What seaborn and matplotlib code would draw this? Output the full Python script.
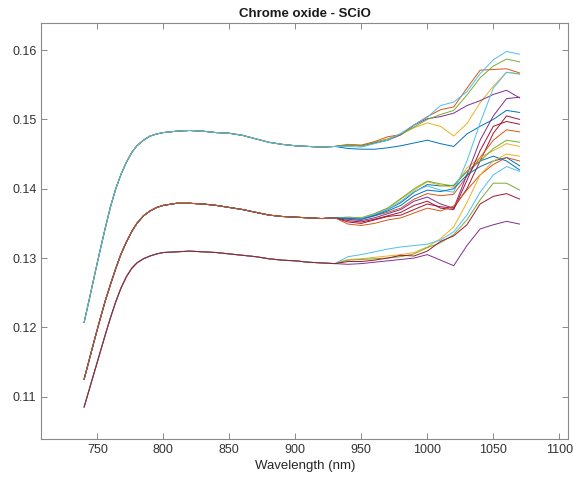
import numpy as np
import pandas as pd
import matplotlib
matplotlib.use("Agg")
import matplotlib.pyplot as plt
import seaborn as sns

# ---- data -------------------------------------------------------------
wl_left = [740, 744, 748, 752, 756, 760, 764, 768, 772, 776, 780, 785, 790,
           795, 800, 810, 820, 830, 840, 850, 860, 870, 880, 890, 900, 910,
           920, 930]
wl_right = [940, 950, 960, 970, 980, 990, 1000, 1010, 1020, 1030, 1040,
            1050, 1060, 1070]

top_left = [0.1207, 0.1241, 0.1276, 0.1310, 0.1343, 0.1374, 0.1400, 0.1421,
            0.1438, 0.1452, 0.1462, 0.1470, 0.1476, 0.1479, 0.1481, 0.1483,
            0.1484, 0.1483, 0.1481, 0.1480, 0.1477, 0.1472, 0.1467, 0.1464,
            0.1462, 0.1461, 0.1460, 0.1461]
mid_left = [0.1125, 0.1154, 0.1183, 0.1211, 0.1238, 0.1262, 0.1285, 0.1306,
            0.1323, 0.1338, 0.1350, 0.1361, 0.1368, 0.1373, 0.1376, 0.1379,
            0.1379, 0.1378, 0.1376, 0.1373, 0.1370, 0.1366, 0.1362, 0.1360,
            0.1359, 0.1358, 0.1357, 0.1358]
bot_left = [0.1085, 0.1111, 0.1137, 0.1163, 0.1189, 0.1214, 0.1237, 0.1257,
            0.1273, 0.1285, 0.1293, 0.1299, 0.1303, 0.1306, 0.1308, 0.1309,
            0.1310, 0.1309, 0.1308, 0.1306, 0.1304, 0.1302, 0.1299, 0.1297,
            0.1296, 0.1294, 0.1293, 0.1292]

# top group (right part)
top_1 = [0.1458, 0.1457, 0.1457, 0.1459, 0.1462, 0.1466, 0.1470, 0.1465,
         0.1461, 0.1479, 0.1490, 0.1500, 0.1513, 0.1510]
top_2 = [0.1464, 0.1463, 0.1468, 0.1475, 0.1478, 0.1492, 0.1504, 0.1514,
         0.1518, 0.1545, 0.1571, 0.1572, 0.1573, 0.1567]
top_3 = [0.1464, 0.1461, 0.1466, 0.1470, 0.1478, 0.1488, 0.1495, 0.1490,
         0.1476, 0.1494, 0.1524, 0.1548, 0.1568, 0.1566]
top_4 = [0.1463, 0.1462, 0.1466, 0.1470, 0.1478, 0.1492, 0.1501, 0.1504,
         0.1509, 0.1520, 0.1527, 0.1536, 0.1542, 0.1531]
top_5 = [0.1463, 0.1462, 0.1467, 0.1472, 0.1479, 0.1489, 0.1500, 0.1507,
         0.1513, 0.1535, 0.1560, 0.1577, 0.1587, 0.1583]
top_6 = [0.1461, 0.1460, 0.1465, 0.1470, 0.1480, 0.1492, 0.1503, 0.1520,
         0.1525, 0.1540, 0.1566, 0.1586, 0.1598, 0.1594]

# middle group (right part)
mid_1 = [0.1352, 0.1350, 0.1355, 0.1360, 0.1362, 0.1370, 0.1378, 0.1374,
         0.1372, 0.1400, 0.1440, 0.1480, 0.1505, 0.1500]
mid_2 = [0.1358, 0.1357, 0.1362, 0.1370, 0.1380, 0.1395, 0.1406, 0.1404,
         0.1405, 0.1425, 0.1440, 0.1447, 0.1440, 0.1427]
mid_3 = [0.1357, 0.1356, 0.1361, 0.1366, 0.1372, 0.1385, 0.1393, 0.1390,
         0.1392, 0.1418, 0.1445, 0.1470, 0.1485, 0.1482]
mid_4 = [0.1359, 0.1358, 0.1364, 0.1372, 0.1385, 0.1398, 0.1410, 0.1405,
         0.1402, 0.1430, 0.1445, 0.1455, 0.1465, 0.1461]
mid_5 = [0.1356, 0.1354, 0.1358, 0.1364, 0.1370, 0.1382, 0.1388, 0.1378,
         0.1372, 0.1420, 0.1470, 0.1505, 0.1530, 0.1532]
mid_6 = [0.1359, 0.1358, 0.1364, 0.1372, 0.1386, 0.1400, 0.1411, 0.1407,
         0.1404, 0.1425, 0.1440, 0.1458, 0.1470, 0.1467]
mid_7 = [0.1358, 0.1357, 0.1363, 0.1370, 0.1382, 0.1396, 0.1404, 0.1398,
         0.1395, 0.1440, 0.1495, 0.1545, 0.1568, 0.1565]
mid_8 = [0.1354, 0.1352, 0.1356, 0.1361, 0.1366, 0.1376, 0.1382, 0.1372,
         0.1370, 0.1412, 0.1455, 0.1490, 0.1497, 0.1493]
mid_9 = [0.1357, 0.1356, 0.1361, 0.1368, 0.1376, 0.1390, 0.1398, 0.1396,
         0.1400, 0.1420, 0.1432, 0.1440, 0.1445, 0.1433]
mid_10 = [0.1349, 0.1347, 0.1350, 0.1355, 0.1358, 0.1365, 0.1372, 0.1368,
          0.1375, 0.1398, 0.1420, 0.1435, 0.1445, 0.1440]

# bottom group (right part)
bot_1 = [0.1298, 0.1299, 0.1301, 0.1303, 0.1305, 0.1308, 0.1316, 0.1328,
         0.1345, 0.1380, 0.1420, 0.1440, 0.1450, 0.1447]
bot_2 = [0.1291, 0.1292, 0.1294, 0.1296, 0.1298, 0.1300, 0.1305, 0.1297,
         0.1289, 0.1318, 0.1342, 0.1348, 0.1353, 0.1349]
bot_3 = [0.1297, 0.1298, 0.1299, 0.1300, 0.1302, 0.1306, 0.1315, 0.1322,
         0.1334, 0.1355, 0.1384, 0.1408, 0.1408, 0.1398]
bot_4 = [0.1302, 0.1305, 0.1309, 0.1313, 0.1316, 0.1318, 0.1320, 0.1326,
         0.1338, 0.1362, 0.1395, 0.1420, 0.1432, 0.1425]
bot_5 = [0.1295, 0.1295, 0.1297, 0.1300, 0.1304, 0.1303, 0.1310, 0.1324,
         0.1332, 0.1348, 0.1378, 0.1389, 0.1393, 0.1385]

x_ticks = [750, 800, 850, 900, 950, 1000, 1050, 1100]
y_ticks = [0.11, 0.12, 0.13, 0.14, 0.15, 0.16]
title = "Chrome oxide - SCiO"
x_label = "Wavelength (nm)"

matlab_colors = ["#0072BD", "#D95319", "#EDB120", "#7E2F8E", "#77AC30",
                 "#4DBEEE", "#A2142F"]

# ---- assemble ---------------------------------------------------------
groups = [
    (top_left, [top_1, top_2, top_3, top_4, top_5, top_6]),
    (mid_left, [mid_1, mid_2, mid_3, mid_4, mid_5, mid_6, mid_7, mid_8,
                mid_9, mid_10]),
    (bot_left, [bot_1, bot_2, bot_3, bot_4, bot_5]),
]
rows = []
idx = 0
for left, rights in groups:
    for right in rights:
        for w, v in zip(wl_left + wl_right, left + right):
            rows.append({"wl": w, "val": v, "line": idx})
        idx += 1
df = pd.DataFrame(rows)
n_lines = idx
palette = [matlab_colors[i % 7] for i in range(n_lines)]

# ---- plot -------------------------------------------------------------
sns.set_style("white")
plt.rcParams["font.family"] = ["Liberation Sans", "DejaVu Sans"]

fig = plt.figure(figsize=(5.73, 4.80), dpi=100)
ax = fig.add_axes([0.0721, 0.0854, 0.9197, 0.8666])

sns.lineplot(data=df, x="wl", y="val", hue="line", palette=palette,
             estimator=None, sort=False, legend=False, linewidth=0.7,
             ax=ax)

ax.set_xlim(707.6, 1106.8)
ax.set_ylim(0.1039, 0.1639)
ax.set_xticks(x_ticks)
ax.set_yticks(y_ticks)
ax.set_yticklabels([f"{t:.2f}" for t in y_ticks])
ax.set_xlabel(x_label, fontsize=9.5, color="#262626", labelpad=3)
ax.set_ylabel("")
ax.set_title(title, fontsize=9.5, fontweight="bold", color="#1a1a1a", pad=4)

for s in ax.spines.values():
    s.set_visible(True)
    s.set_color("#8a8a8a")
    s.set_linewidth(0.8)
ax.tick_params(direction="in", length=4, width=0.7, color="#8a8a8a",
               labelsize=9, labelcolor="#333333", top=True, right=True,
               bottom=True, left=True)

fig.savefig("out.png", dpi=100, facecolor="white")
